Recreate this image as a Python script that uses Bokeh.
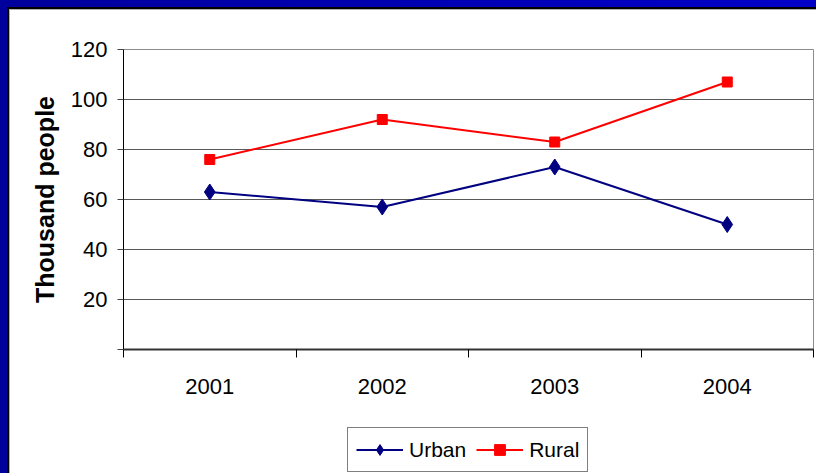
from bokeh.plotting import figure
from bokeh.layouts import column
from bokeh.models import (FactorRange, Range1d, LinearAxis, FixedTicker,
                          Legend, LegendItem)
from bokeh.embed import file_html
from bokeh.resources import INLINE

# Data
categories = ["2001", "2002", "2003", "2004"]
urban = [63, 57, 73, 50]
rural = [76, 92, 83, 107]
y_ticks = [0, 20, 40, 60, 80, 100, 120]

FONT = "Liberation Sans"
NAVY = "#000080"
RED = "#ff0000"

# Slide frame painted behind transparent canvases: blue band, black rule,
# thin grey rule, then the white slide
frame_css = (
    "linear-gradient(#ffffff,#ffffff) 10px 10px / calc(100% - 10px) calc(100% - 10px) no-repeat, "
    "linear-gradient(#b0b0b0,#b0b0b0) 9px 9px / calc(100% - 9px) calc(100% - 9px) no-repeat, "
    "linear-gradient(#000000,#000000) 7px 7px / calc(100% - 7px) calc(100% - 7px) no-repeat, "
    "linear-gradient(90deg, #00009c, #0000c8)"
)

p = figure(width=816, height=423,
           x_range=FactorRange(*categories), y_range=Range1d(0, 120),
           x_axis_location=None,
           output_backend="svg", toolbar_location=None,
           min_border_left=123, min_border_right=3,
           min_border_top=49, min_border_bottom=74,
           background_fill_color="white",
           border_fill_color=None, border_fill_alpha=0)

p.outline_line_color = "#8c8c8c"
p.outline_line_width = 1

# Horizontal gridlines only
p.xgrid.visible = False
p.ygrid.grid_line_color = "#595959"
p.ygrid.grid_line_width = 1

# Y axis
ya = p.yaxis[0]
ya.ticker = FixedTicker(ticks=y_ticks)
ya.major_label_overrides = {0: ""}
ya.axis_line_color = "black"
ya.major_tick_line_color = "#444444"
ya.major_tick_out = 6
ya.major_tick_in = 0
ya.minor_tick_line_color = None
ya.major_label_standoff = 10
ya.major_label_text_font = FONT
ya.major_label_text_font_size = "22px"
ya.major_label_text_color = "black"
ya.axis_label = "Thousand people"
ya.axis_label_text_font = FONT
ya.axis_label_text_font_style = "bold"
ya.axis_label_text_font_size = "25px"
ya.axis_label_text_color = "black"
ya.axis_label_standoff = 9

# X axis on the factor range's synthetic coordinates: labels centred on each
# category, tick marks on the category boundaries
n = len(categories)
xa = LinearAxis(ticker=FixedTicker(ticks=[i + 0.5 for i in range(n)],
                                   minor_ticks=list(range(n + 1))),
                major_label_overrides={i + 0.5: c for i, c in enumerate(categories)})
xa.axis_line_color = "#333333"
xa.axis_line_width = 2
xa.major_tick_out = 0
xa.major_tick_in = 0
xa.minor_tick_out = 8
xa.minor_tick_in = 0
xa.minor_tick_line_color = "black"
xa.major_label_standoff = 21
xa.major_label_text_font = FONT
xa.major_label_text_font_size = "22px"
xa.major_label_text_color = "black"
p.add_layout(xa, "below")

# Series
line_style = dict(line_width=2)
p.line(categories, urban, line_color=NAVY, **line_style)
p.scatter(categories, urban, marker="diamond", size=16, fill_color=NAVY, line_color=NAVY)
p.line(categories, rural, line_color=RED, **line_style)
p.scatter(categories, rural, marker="square", size=10, fill_color=RED, line_color=RED)

# Legend strip under the chart (its frame lines up with the chart's frame),
# with key glyphs styled like the series; NaN keeps the keys off the strip
nan = [float("nan")]
lg = figure(width=816, height=50, output_backend="svg", toolbar_location=None,
            x_axis_location=None, y_axis_location=None, min_border=0,
            x_range=Range1d(0, 1), y_range=Range1d(0, 1),
            background_fill_alpha=0, border_fill_color=None, border_fill_alpha=0,
            outline_line_color=None)
lg.xgrid.visible = False
lg.ygrid.visible = False
k_ul = lg.line(nan, nan, line_color=NAVY, **line_style)
k_us = lg.scatter(nan, nan, marker="diamond", size=16, fill_color=NAVY, line_color=NAVY)
k_rl = lg.line(nan, nan, line_color=RED, **line_style)
k_rs = lg.scatter(nan, nan, marker="square", size=10, fill_color=RED, line_color=RED)

legend = Legend(items=[LegendItem(label="Urban", renderers=[k_ul, k_us]),
                       LegendItem(label="Rural", renderers=[k_rl, k_rs])],
                orientation="horizontal", location=(224, 1), margin=0,
                padding=8, spacing=10, label_standoff=6,
                glyph_width=47, glyph_height=27, label_height=27,
                border_line_color="black", border_line_width=1,
                background_fill_color="white", background_fill_alpha=1,
                label_text_font=FONT, label_text_font_size="21px",
                label_text_color="black")
lg.add_layout(legend, "center")

page = column(p, lg, width=816, height=473, spacing=0,
              styles={"background": frame_css})

open("out.html", "w").write(file_html(page, INLINE))
